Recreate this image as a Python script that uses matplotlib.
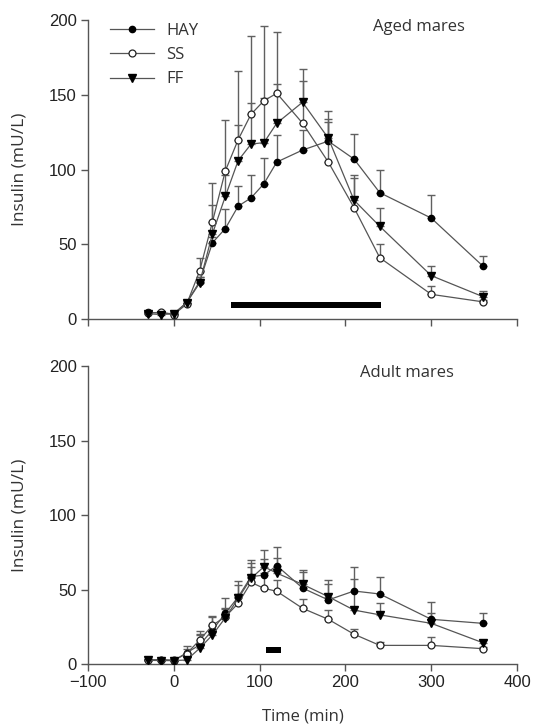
import matplotlib
matplotlib.use("Agg")
import matplotlib.pyplot as plt
import numpy as np

time = [-30, -15, 0, 15, 30, 45, 60, 75, 90, 105, 120, 150, 180, 210, 240, 300, 360]

# Aged mares (top)
aged_hay = [4.5, 4, 3.5, 11, 25, 51, 60.5, 75.5, 81, 90.5, 105, 113, 119, 107, 84.5, 67.5, 35.5]
aged_hay_err = [1, 1, 1, 2, 3, 4, 13, 13.5, 15.5, 17.5, 18, 13.5, 15, 17, 15, 15.5, 6.5]
aged_ss = [4, 4.5, 3, 10, 32, 65, 99, 120, 137, 146, 151, 131, 105, 74.5, 41, 16.5, 11.5]
aged_ss_err = [1, 1, 1, 2, 9, 26, 34, 46, 52, 50, 41, 28, 27, 20, 9, 5.5, 1]
aged_ff = [3.5, 3, 3.5, 11, 24, 57, 82, 106, 117, 118, 131, 145, 121, 79.5, 62, 29, 15]
aged_ff_err = [1, 1, 1, 2, 4, 19, 14, 24, 27.5, 30, 26.5, 22, 18, 17, 12.5, 6.5, 3.5]

# Adult mares (bottom)
adult_hay = [2.7, 2.7, 2.3, 7.6, 12.7, 22.8, 34, 45, 58.6, 59.7, 66, 51, 43, 49, 47, 30, 27.3]
adult_hay_err = [0.5, 0.5, 0.5, 4.5, 7, 9, 10, 11, 11, 11, 12.7, 11, 11, 8, 11.6, 11.6, 7]
adult_ss = [2.7, 3, 2.5, 7, 16, 26, 31.7, 40.7, 54.8, 50.8, 48.8, 37.4, 30, 20, 12.5, 12.5, 10.3]
adult_ss_err = [0.5, 0.5, 0.5, 3, 6, 6, 6, 6, 10.5, 10, 7.6, 6.2, 6.2, 3.3, 2.5, 5.4, 1]
adult_ff = [2.5, 2.3, 2.3, 2.7, 10.5, 19.5, 31, 44, 57.5, 65.3, 61, 53.5, 45.2, 36.2, 33, 27.3, 14.3]
adult_ff_err = [0.5, 0.5, 0.5, 2, 9.5, 6, 6, 9, 10, 11, 10, 9.5, 11, 29, 8, 7, 1.8]

series_names = ["HAY", "SS", "FF"]
panel_titles = ["Aged mares", "Adult mares"]
bar_ranges = [(67, 242), (107, 125)]
bar_level = 9.4

yticks = [0, 50, 100, 150, 200]
xticks = [-100, 0, 100, 200, 300, 400]

TXT = ["Open Sans", "DejaVu Sans"]
NUM = ["Liberation Sans", "DejaVu Sans"]

fig = plt.figure(figsize=(5.39, 7.28), dpi=100)
ax_top = fig.add_axes([0.1633, 0.5618, 0.796, 0.4107])
ax_bot = fig.add_axes([0.1633, 0.0879, 0.796, 0.4093])

styles = {
    "HAY": dict(marker="o", markersize=4.5, markerfacecolor="black", markeredgecolor="black"),
    "SS": dict(marker="o", markersize=5, markerfacecolor="white", markeredgecolor="#222222", markeredgewidth=0.9),
    "FF": dict(marker="v", markersize=6, markerfacecolor="black", markeredgecolor="black"),
}

panels = [
    (ax_top, [(aged_hay, aged_hay_err), (aged_ss, aged_ss_err), (aged_ff, aged_ff_err)]),
    (ax_bot, [(adult_hay, adult_hay_err), (adult_ss, adult_ss_err), (adult_ff, adult_ff_err)]),
]

for i, (ax, data) in enumerate(panels):
    handles = []
    for name, (vals, errs) in zip(series_names, data):
        ax.errorbar(time, vals, yerr=[np.zeros(len(errs)), errs], fmt="none",
                    ecolor="#606060", elinewidth=1.0, capsize=3, capthick=1.0, zorder=2)
    for name, (vals, errs) in zip(series_names, data):
        h, = ax.plot(time, vals, color="#555555", linewidth=0.9, zorder=3, label=name, **styles[name])
        handles.append(h)
    s, e = bar_ranges[i]
    ax.barh(bar_level, e - s, left=s, height=4.6, color="black", zorder=4)

    ax.set_xlim(-100, 400)
    ax.set_ylim(0, 200)
    ax.set_yticks(yticks)
    ax.set_xticks(xticks)
    for sp in ["top", "right"]:
        ax.spines[sp].set_visible(False)
    for sp in ["left", "bottom"]:
        ax.spines[sp].set_color("#555555")
        ax.spines[sp].set_linewidth(1.0)
    ax.tick_params(direction="out", length=5, width=1.0, color="#555555", labelsize=12, pad=3)
    for lab in ax.get_yticklabels() + ax.get_xticklabels():
        lab.set_fontfamily(NUM)
        lab.set_color("#222222")
    ax.set_ylabel("Insulin (mU/L)", fontsize=12.5, family=TXT, color="#333333")
    ax.yaxis.set_label_coords(-0.141, 0.5)

    ax.text(0.665 if i == 0 else 0.634, 0.975, panel_titles[i], transform=ax.transAxes,
            fontsize=12, family=TXT, color="#333333", ha="left", va="center")

    if i == 0:
        ax.tick_params(axis="x", labelbottom=False)
        leg = ax.legend(handles=handles, loc="upper left", bbox_to_anchor=(0.025, 1.03),
                        frameon=False, handlelength=2.6, handletextpad=0.75,
                        labelspacing=0.5, numpoints=1, prop={"family": TXT, "size": 12},
                        borderaxespad=0.3)
        for t in leg.get_texts():
            t.set_color("#333333")

ax_bot.set_xlabel("Time (min)", fontsize=12, family=TXT, color="#333333", labelpad=13)

fig.savefig("out.png", dpi=100)
